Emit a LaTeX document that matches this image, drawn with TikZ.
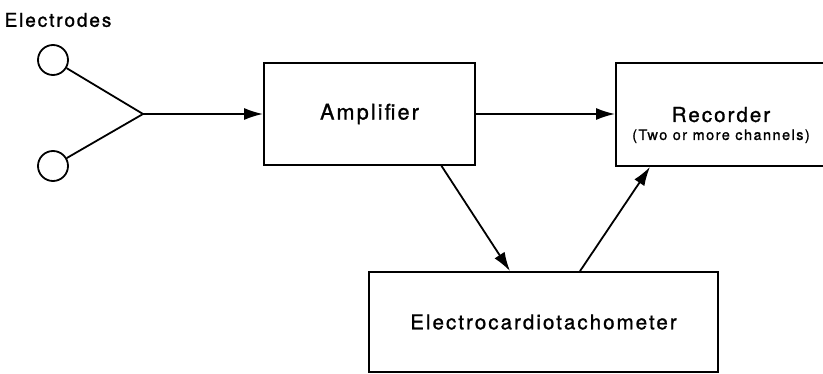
\documentclass[tikz,border=0pt]{standalone}
\usepackage{fontspec}
\setmainfont{TeX Gyre Heros}[LetterSpace=10,FakeBold=1.2]
\usetikzlibrary{arrows.meta}
\tikzset{
  blockbox/.style={draw,line width=1.8pt,inner sep=0pt,align=center},
  flow/.style={line width=1.8pt,-{Latex[length=19pt,width=12pt]}},
  lead/.style={line width=1.8pt}
}
\begin{document}
\begin{tikzpicture}[x=1pt,y=-1pt]
  \useasboundingbox (0,0) rectangle (823,374);
  \clip (0,0) rectangle (823,374);
  % electrodes
  \node[font=\fontsize{19}{22}\selectfont] (elabel) at (58,20) {Electrodes};
  \node[draw,circle,line width=1.8pt,minimum size=30pt,inner sep=0pt] (el1) at (53,60) {};
  \node[draw,circle,line width=1.8pt,minimum size=30pt,inner sep=0pt] (el2) at (53,166) {};
  \coordinate (join) at (143,114);
  \draw[lead] (el1) -- (join); \draw[lead] (el2) -- (join);
  % blocks
  \node[blockbox,minimum width=211pt,minimum height=102pt,font=\fontsize{21.5}{24}\selectfont] (amp) at (369.5,114) {Amplifier};
  \node[blockbox,minimum width=214pt,minimum height=103pt] (rec) at (723,114.5) {};
  \node[align=center,font=\fontsize{20.5}{19}\selectfont] (reclbl) at ([xshift=-2pt,yshift=-10.5pt]rec.center) {Recorder\\[-1pt]{\fontsize{14.5}{15}\selectfont (Two or more channels)}};
  \node[blockbox,minimum width=349pt,minimum height=100pt,font=\fontsize{20.5}{24}\selectfont] (ect) at (543.5,322) {Electrocardiotachometer};
  % signal paths
  \draw[flow] (join) -- (amp.west);
  \draw[flow] (amp.east) -- (rec.west |- amp.east);
  \draw[flow] ([xshift=72pt]amp.south) -- ([xshift=-33.5pt]ect.north);
  \draw[flow] ([xshift=36.5pt]ect.north) -- ([xshift=-73pt]rec.south);
\end{tikzpicture}
\end{document}
